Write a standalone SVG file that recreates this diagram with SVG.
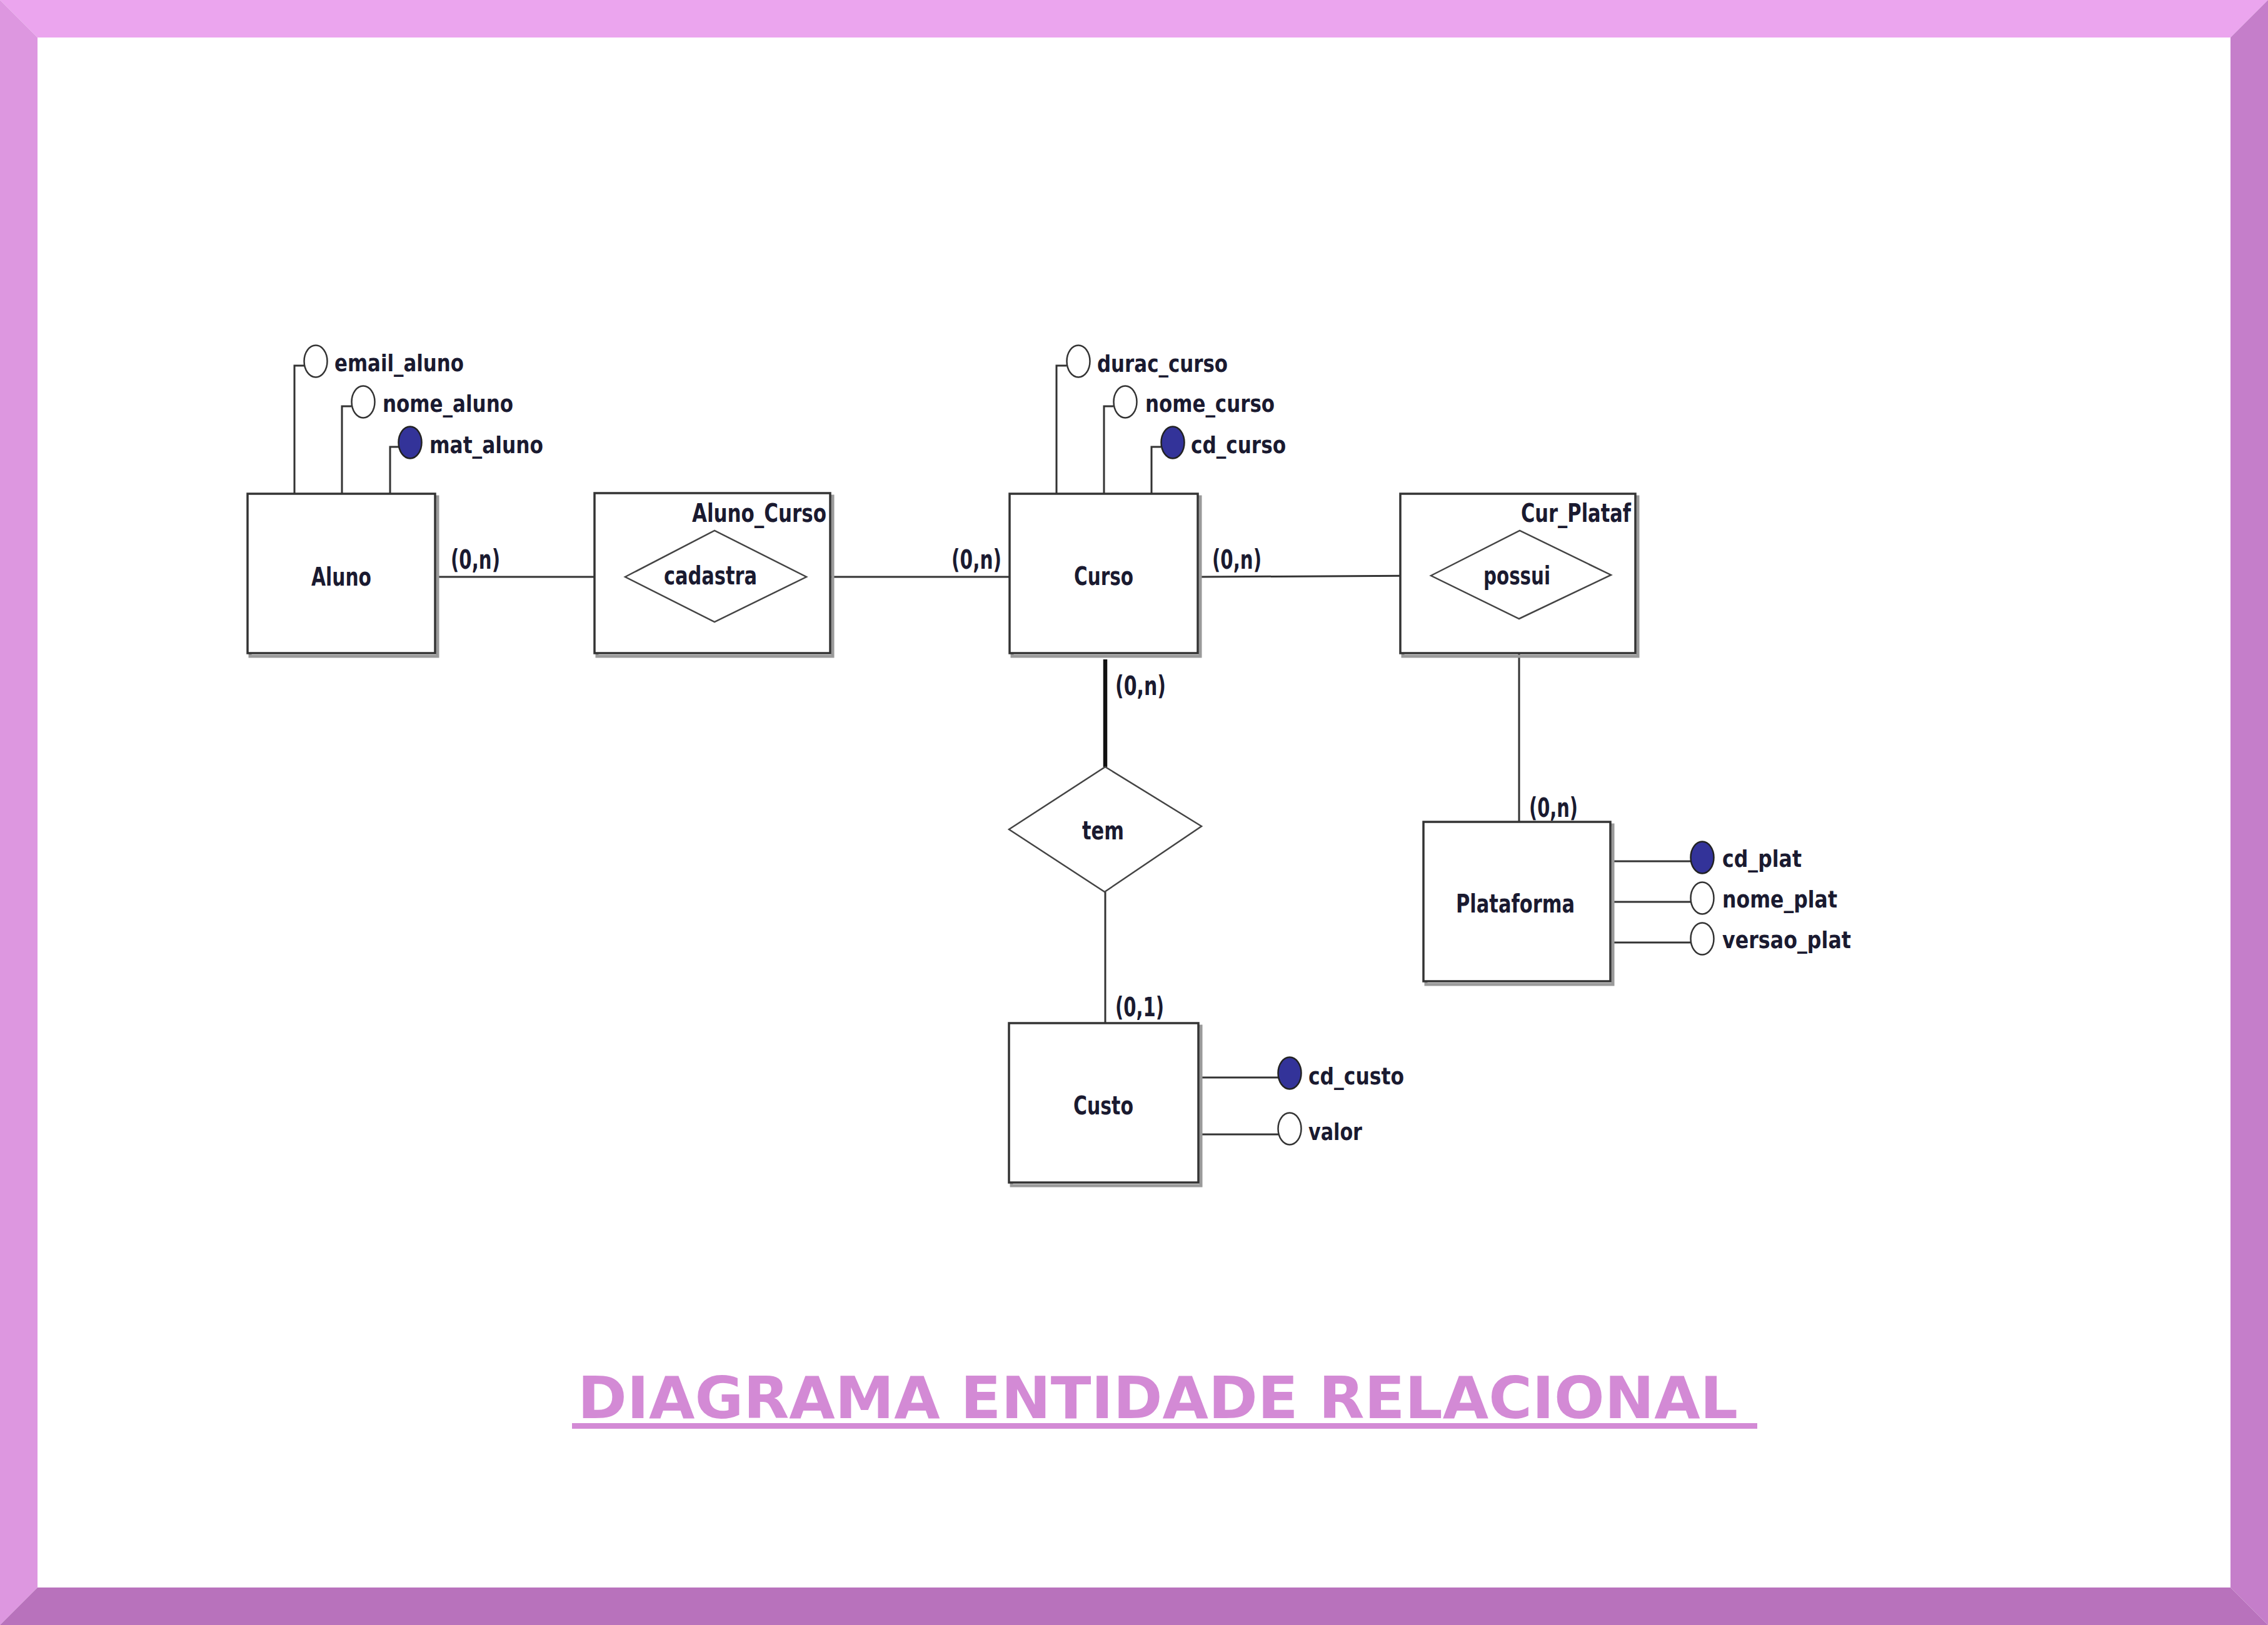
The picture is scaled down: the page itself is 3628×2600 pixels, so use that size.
<svg xmlns="http://www.w3.org/2000/svg" width="3628" height="2600" viewBox="0 0 3628 2600">
<style>
.box{fill:#fff;stroke:#333;stroke-width:3.5}
.shadow{fill:none;stroke:#9a9a9a;stroke-width:5}
.dia{fill:#fff;stroke:#444;stroke-width:2.5}
.ln{stroke:#333;stroke-width:3;fill:none}
.thick{stroke:#111;stroke-width:6.5;fill:none}
.att{fill:#fff;stroke:#333;stroke-width:2.5}
.key{fill:#333399;stroke:#222;stroke-width:2.5}
text{font-family:"DejaVu Sans","Liberation Sans",sans-serif;font-weight:bold;fill:#1a1a30}
.lbl{font-size:40px}
.atx{font-size:38px}
.card{font-size:43px}
.title{font-size:92px;fill:#D38AD5}
</style>
<rect x="0" y="0" width="3628" height="2600" fill="#fff"/>
<g id="frame">
<polygon points="0,0 3628,0 3568,60 60,60" fill="#EBA5EE"/>
<polygon points="0,0 60,60 60,2540 0,2600" fill="#DD97E0"/>
<polygon points="3628,0 3628,2600 3568,2540 3568,60" fill="#C57ECA"/>
<polygon points="0,2600 60,2540 3568,2540 3628,2600" fill="#B872BC"/>
</g>

<g id="connectors">
<line class="ln" x1="698" y1="923" x2="1000" y2="923"/>
<line class="ln" x1="1290" y1="923" x2="1615" y2="923"/>
<line class="ln" x1="1918" y1="923" x2="2289" y2="921"/>
<line class="ln" x1="2430" y1="990" x2="2430" y2="1315"/>
<line class="thick" x1="1768" y1="1055" x2="1768" y2="1227"/>
<line class="ln" x1="1768" y1="1427" x2="1768" y2="1637"/>
<polyline class="ln" points="471,790 471,585 487,585"/>
<polyline class="ln" points="547,790 547,650 562,650"/>
<polyline class="ln" points="624,790 624,715 638,715"/>
<polyline class="ln" points="1690,790 1690,585 1706,585"/>
<polyline class="ln" points="1766,790 1766,650 1781,650"/>
<polyline class="ln" points="1842,790 1842,715 1857,715"/>
<line class="ln" x1="2580" y1="1378" x2="2705" y2="1378"/>
<line class="ln" x1="2580" y1="1443" x2="2705" y2="1443"/>
<line class="ln" x1="2580" y1="1508" x2="2705" y2="1508"/>
<line class="ln" x1="1921" y1="1724" x2="2045" y2="1724"/>
<line class="ln" x1="1921" y1="1815" x2="2045" y2="1815"/>
<text class="card" x="721" y="910" textLength="79" lengthAdjust="spacingAndGlyphs">(0,n)</text>
<text class="card" x="1522" y="910" textLength="80" lengthAdjust="spacingAndGlyphs">(0,n)</text>
<text class="card" x="1939" y="910" textLength="79" lengthAdjust="spacingAndGlyphs">(0,n)</text>
<text class="card" x="2446" y="1307" textLength="78" lengthAdjust="spacingAndGlyphs">(0,n)</text>
<text class="card" x="1784" y="1112" textLength="81" lengthAdjust="spacingAndGlyphs">(0,n)</text>
<text class="card" x="1784" y="1626" textLength="78" lengthAdjust="spacingAndGlyphs">(0,1)</text>
</g>

<g id="Aluno">
<rect class="shadow" x="400" y="795" width="300" height="255"/>
<rect class="box" x="396" y="790" width="300" height="255"/>
<text class="lbl" x="498" y="937" textLength="96" lengthAdjust="spacingAndGlyphs">Aluno</text>
</g>
<g id="attr_email_aluno"><ellipse class="att" cx="505" cy="578" rx="18.5" ry="25.5"/><text class="atx" x="535" y="594" textLength="207" lengthAdjust="spacingAndGlyphs">email_aluno</text></g>
<g id="attr_nome_aluno"><ellipse class="att" cx="581" cy="643" rx="18.5" ry="25.5"/><text class="atx" x="612" y="659" textLength="209" lengthAdjust="spacingAndGlyphs">nome_aluno</text></g>
<g id="attr_mat_aluno"><ellipse class="key" cx="656" cy="708" rx="18.5" ry="25.5"/><text class="atx" x="687" y="725" textLength="182" lengthAdjust="spacingAndGlyphs">mat_aluno</text></g>

<g id="Aluno_Curso">
<rect class="shadow" x="955" y="794" width="377" height="256"/>
<rect class="box" x="951" y="789" width="377" height="256"/>
<text class="lbl" x="1107" y="835" textLength="215" lengthAdjust="spacingAndGlyphs">Aluno_Curso</text>
</g>
<g id="cadastra">
<polygon class="dia" points="1000,923 1143,849 1290,923 1143,995"/>
<text class="lbl" x="1062" y="935" textLength="149" lengthAdjust="spacingAndGlyphs">cadastra</text>
</g>

<g id="Curso">
<rect class="shadow" x="1619" y="795" width="301" height="255"/>
<rect class="box" x="1615" y="790" width="301" height="255"/>
<text class="lbl" x="1718" y="936" textLength="95" lengthAdjust="spacingAndGlyphs">Curso</text>
</g>
<g id="attr_durac_curso"><ellipse class="att" cx="1725" cy="578" rx="18.5" ry="25.5"/><text class="atx" x="1755" y="595" textLength="209" lengthAdjust="spacingAndGlyphs">durac_curso</text></g>
<g id="attr_nome_curso"><ellipse class="att" cx="1800" cy="643" rx="18.5" ry="25.5"/><text class="atx" x="1832" y="659" textLength="207" lengthAdjust="spacingAndGlyphs">nome_curso</text></g>
<g id="attr_cd_curso"><ellipse class="key" cx="1876" cy="708" rx="18.5" ry="25.5"/><text class="atx" x="1905" y="725" textLength="152" lengthAdjust="spacingAndGlyphs">cd_curso</text></g>

<g id="Cur_Plataf">
<rect class="shadow" x="2244" y="795" width="376" height="255"/>
<rect class="box" x="2240" y="790" width="376" height="255"/>
<text class="lbl" x="2433" y="835" textLength="176" lengthAdjust="spacingAndGlyphs">Cur_Plataf</text>
</g>
<g id="possui">
<polygon class="dia" points="2289,921 2431,849 2577,920 2430,990"/>
<text class="lbl" x="2373" y="935" textLength="107" lengthAdjust="spacingAndGlyphs">possui</text>
</g>

<g id="Plataforma">
<rect class="shadow" x="2281" y="1320" width="299" height="255"/>
<rect class="box" x="2277" y="1315" width="299" height="255"/>
<text class="lbl" x="2329" y="1460" textLength="190" lengthAdjust="spacingAndGlyphs">Plataforma</text>
</g>
<g id="attr_cd_plat"><ellipse class="key" cx="2723" cy="1372" rx="18.5" ry="25.5"/><text class="atx" x="2755" y="1387" textLength="127" lengthAdjust="spacingAndGlyphs">cd_plat</text></g>
<g id="attr_nome_plat"><ellipse class="att" cx="2723" cy="1437" rx="18.5" ry="25.5"/><text class="atx" x="2755" y="1452" textLength="184" lengthAdjust="spacingAndGlyphs">nome_plat</text></g>
<g id="attr_versao_plat"><ellipse class="att" cx="2723" cy="1502" rx="18.5" ry="25.5"/><text class="atx" x="2755" y="1517" textLength="206" lengthAdjust="spacingAndGlyphs">versao_plat</text></g>

<g id="tem">
<polygon class="dia" points="1768,1227 1922,1322 1767,1427 1614,1327"/>
<text class="lbl" x="1731" y="1343" textLength="67" lengthAdjust="spacingAndGlyphs">tem</text>
</g>

<g id="Custo">
<rect class="shadow" x="1618" y="1642" width="303" height="255"/>
<rect class="box" x="1614" y="1637" width="303" height="255"/>
<text class="lbl" x="1717" y="1783" textLength="96" lengthAdjust="spacingAndGlyphs">Custo</text>
</g>
<g id="attr_cd_custo"><ellipse class="key" cx="2063" cy="1717" rx="18.5" ry="25.5"/><text class="atx" x="2093" y="1735" textLength="153" lengthAdjust="spacingAndGlyphs">cd_custo</text></g>
<g id="attr_valor"><ellipse class="att" cx="2063" cy="1806" rx="18.5" ry="25.5"/><text class="atx" x="2093" y="1824" textLength="86" lengthAdjust="spacingAndGlyphs">valor</text></g>

<g id="title">
<text class="title" x="924" y="2269" textLength="1856" lengthAdjust="spacingAndGlyphs">DIAGRAMA ENTIDADE RELACIONAL</text>
<rect x="915" y="2277" width="1896" height="9" fill="#D38AD5"/>
</g>
</svg>
